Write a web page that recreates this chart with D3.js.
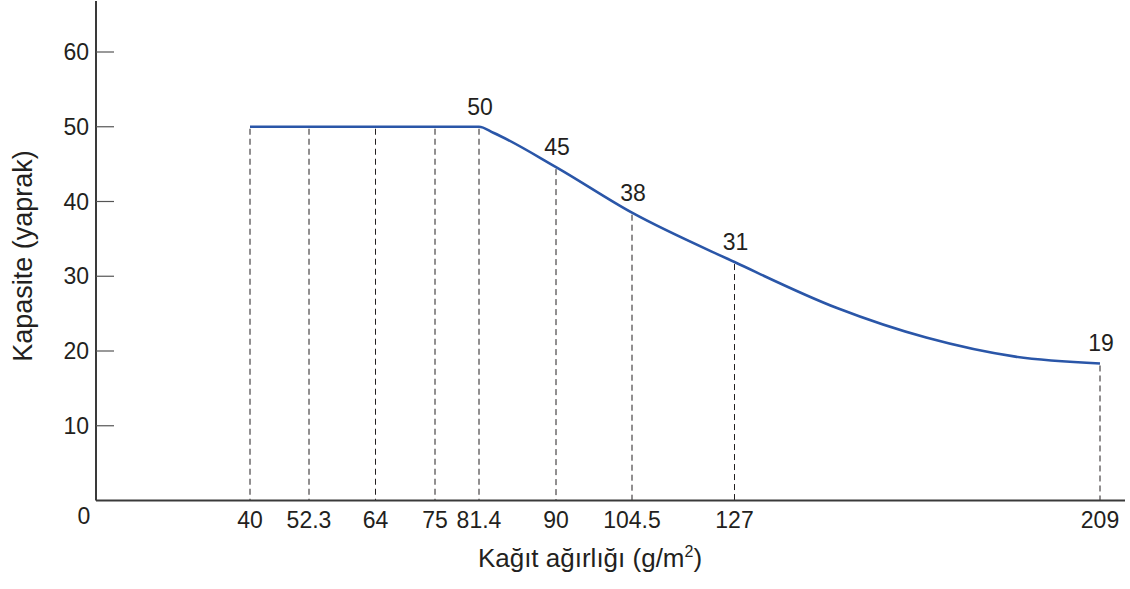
<!DOCTYPE html>
<html>
<head>
<meta charset="utf-8">
<script src="https://cdn.jsdelivr.net/npm/d3@7"></script>
<style>
  body { margin: 0; background: #fff; }
  text { font-family: "Liberation Sans", Arial, sans-serif; fill: #231f20; }
</style>
</head>
<body>
<svg width="1130" height="589"></svg>
<script>
// paper weights (g/m2) marked on the x axis
var weights = [40, 52.3, 64, 75, 81.4, 90, 104.5, 127, 209];
var xTickLabels = ["40", "52.3", "64", "75", "81.4", "90", "104.5", "127", "209"];
// capacity curve (sheets)
var curveWeights  = [40, 52.3, 64, 75, 81.4, 83, 90, 104.5, 127, 150, 170, 190, 209];
var curveCapacity = [50, 50, 50, 50, 50, 49.2, 44.6, 38.5, 31.9, 25.75, 21.8, 19.25, 18.33];
// labelled points along the curve
var labelWeights = [81.4, 90, 104.5, 127, 209];
var labelTexts = ["50", "45", "38", "31", "19"];
var yTicks = [10, 20, 30, 40, 50, 60];

var svg = d3.select("svg");

var originX = 96, originY = 500.5, axisRight = 1125;

// the x axis is not to scale in the original, each tick gets its own slot
var slots = [250, 309, 375.5, 435, 479, 556, 632, 734.5, 1100];
var x = d3.scaleLinear().domain(weights).range(slots);
var y = d3.scaleLinear().domain([0, 60]).range([originY, 52]);

var curve = curveWeights.map(function(w, i) { return {w: w, v: curveCapacity[i]}; });
var valueAt = function(w) { return curveCapacity[curveWeights.indexOf(w)]; };

// dashed drop lines
svg.selectAll("line.drop")
  .data(weights)
  .enter().append("line")
  .attr("class", "drop")
  .attr("x1", function(d) { return x(d); })
  .attr("x2", function(d) { return x(d); })
  .attr("y1", function(d) { return y(valueAt(d)) + 2; })
  .attr("y2", originY)
  .attr("stroke", "#231f20")
  .attr("stroke-width", 1)
  .attr("stroke-dasharray", "6,4");

// curve
var line = d3.line()
  .x(function(d) { return x(d.w); })
  .y(function(d) { return y(d.v); })
  .curve(d3.curveMonotoneX);

svg.append("path")
  .datum(curve)
  .attr("d", line)
  .attr("fill", "none")
  .attr("stroke", "#2a56a8")
  .attr("stroke-width", 2.6);

// axes
svg.append("line")
  .attr("x1", originX).attr("x2", originX)
  .attr("y1", 1).attr("y2", originY)
  .attr("stroke", "#3a3a3a").attr("stroke-width", 2);
svg.append("line")
  .attr("x1", originX).attr("x2", axisRight)
  .attr("y1", originY).attr("y2", originY)
  .attr("stroke", "#3a3a3a").attr("stroke-width", 2);

// y ticks (pointing inward)
svg.selectAll("line.ytick")
  .data(yTicks)
  .enter().append("line")
  .attr("x1", originX).attr("x2", originX + 18)
  .attr("y1", function(d) { return y(d); })
  .attr("y2", function(d) { return y(d); })
  .attr("stroke", "#555").attr("stroke-width", 1.2);

svg.selectAll("text.ylab")
  .data(yTicks)
  .enter().append("text")
  .attr("x", 89)
  .attr("y", function(d) { return y(d) + 8; })
  .attr("text-anchor", "end")
  .attr("font-size", "23px")
  .text(function(d) { return d; });

svg.append("text")
  .attr("x", 84).attr("y", 524)
  .attr("text-anchor", "middle")
  .attr("font-size", "23px")
  .text("0");

// x tick labels
svg.selectAll("text.xlab")
  .data(weights)
  .enter().append("text")
  .attr("x", function(d) { return x(d); })
  .attr("y", 528)
  .attr("text-anchor", "middle")
  .attr("font-size", "23px")
  .text(function(d, i) { return xTickLabels[i]; });

// value labels
svg.selectAll("text.val")
  .data(labelWeights)
  .enter().append("text")
  .attr("x", function(d) { return x(d) + 1; })
  .attr("y", function(d) { return y(valueAt(d)) - 12; })
  .attr("text-anchor", "middle")
  .attr("font-size", "23px")
  .text(function(d, i) { return labelTexts[i]; });

// axis titles
var xt = svg.append("text")
  .attr("x", 590).attr("y", 567)
  .attr("text-anchor", "middle")
  .attr("font-size", "26px");
xt.append("tspan").text("Kağıt ağırlığı (g/m");
xt.append("tspan").attr("font-size", "16px").attr("dy", -10).text("2");
xt.append("tspan").attr("dy", 10).text(")");

svg.append("text")
  .attr("transform", "translate(32,256) rotate(-90)")
  .attr("text-anchor", "middle")
  .attr("font-size", "27px")
  .text("Kapasite (yaprak)");
</script>
</body>
</html>
